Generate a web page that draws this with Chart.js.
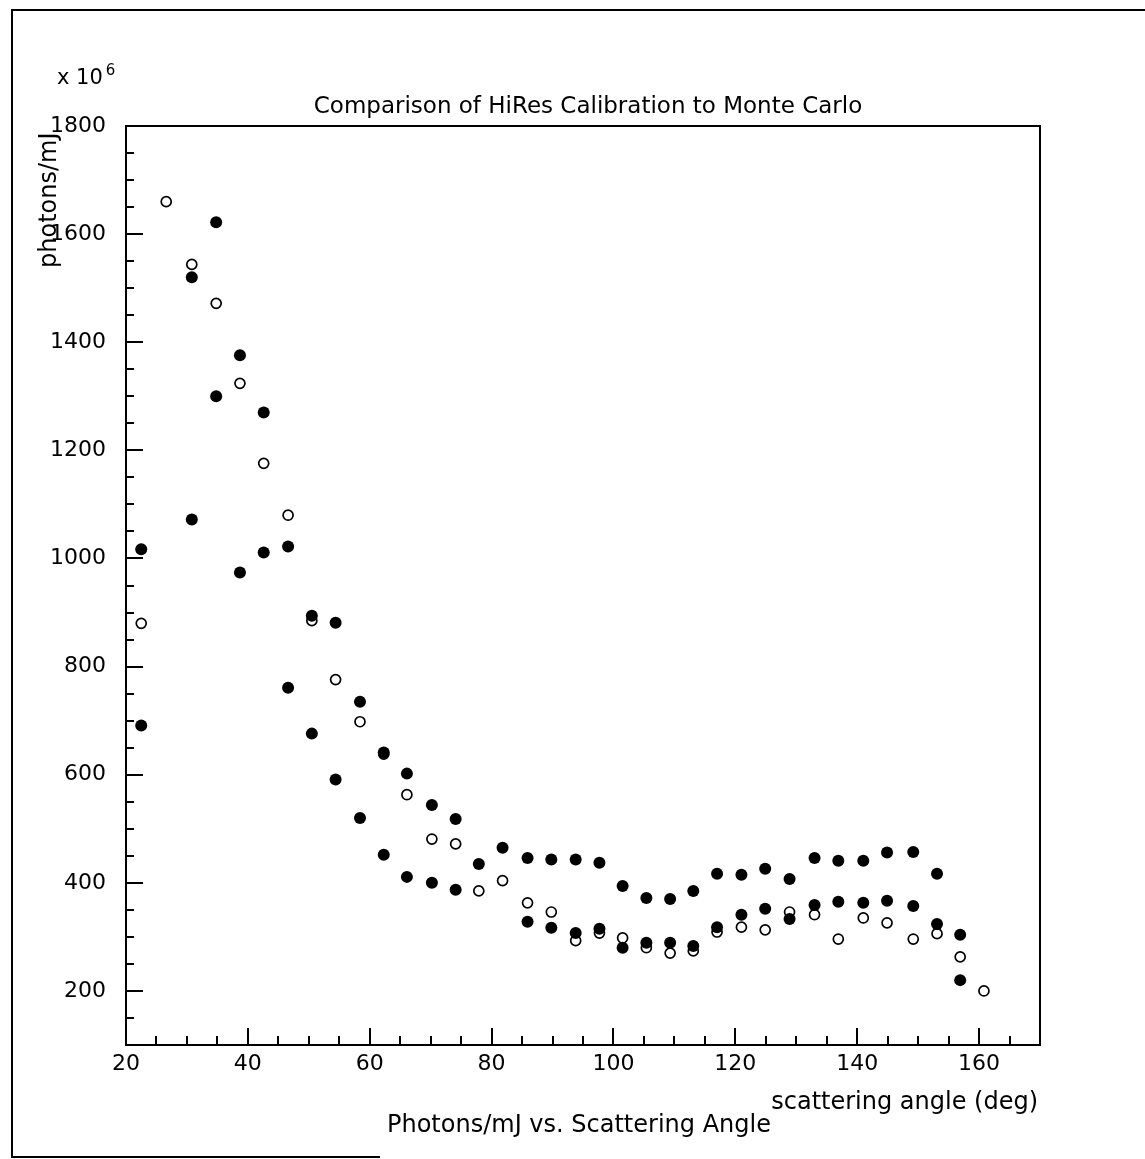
<!DOCTYPE html>
<html>
<head>
<meta charset="utf-8">
<script src="https://cdn.jsdelivr.net/npm/chart.js@4.4.1/dist/chart.umd.min.js"></script>
<style>
  body { margin: 0; background: #fff; }
  canvas { display: block; }
</style>
</head>
<body>
<canvas id="hires" width="1145" height="1159"></canvas>
<script>
// scattering angle of each bin (deg)
const angles = [22.5, 26.6, 30.8, 34.8, 38.7, 42.6, 46.6, 50.5, 54.4, 58.4,
  62.3, 66.1, 70.2, 74.1, 77.9, 81.8, 85.9, 89.8, 93.8, 97.7,
  101.5, 105.4, 109.3, 113.1, 117.0, 121.0, 124.9, 128.9, 133.0, 136.9,
  141.0, 144.9, 149.2, 153.1, 156.9, 160.8];

// photons/mJ (x 10^6) -- HiRes calibration, upper and lower sets
const calibHigh = [1017, null, 1520, 1622, 1376, 1270, 1022, 894, 881, 735,
  641, 602, 544, 518, 435, 465, 446, 443, 443, 437,
  394, 372, 370, 385, 417, 415, 426, 407, 446, 441,
  441, 456, 457, 417, 304, null];
const calibLow = [691, null, 1072, 1300, 974, 1011, 761, 676, 591, 520,
  452, 411, 400, 387, null, null, 328, 317, 307, 315,
  280, 289, 289, 283, 318, 341, 352, 333, 359, 365,
  363, 367, 357, 324, 220, null];
// Monte Carlo prediction
const monteCarlo = [880, 1660, 1544, 1472, 1324, 1176, 1080, 885, 776, 698,
  638, 563, 481, 472, 385, 404, 363, 346, 293, 307,
  298, 280, 270, 274, 309, 318, 313, 346, 341, 296,
  335, 326, 296, 306, 263, 200];

// labelled tick values
const xMajor = [20, 40, 60, 80, 100, 120, 140, 160];
const yMajor = [200, 400, 600, 800, 1000, 1200, 1400, 1600, 1800];

const FONT = '"DejaVu Sans", sans-serif';

function toPoints(vals) {
  return angles.map((a, i) => ({ x: a, y: vals[i] })).filter(p => p.y !== null);
}

// box, inward ticks and the text around the plot
const pawFrame = {
  id: 'pawFrame',
  afterDraw(chart) {
    const { ctx, chartArea: a, scales: { x, y } } = chart;
    ctx.save();
    ctx.strokeStyle = '#000';
    ctx.fillStyle = '#000';
    ctx.lineWidth = 2;
    ctx.strokeRect(a.left, a.top, a.right - a.left, a.bottom - a.top);

    ctx.beginPath();
    x.ticks.forEach(t => {
      const px = Math.round(x.getPixelForValue(t.value));
      const len = xMajor.includes(t.value) ? 17 : 9;
      ctx.moveTo(px, a.bottom);
      ctx.lineTo(px, a.bottom - len);
    });
    y.ticks.forEach(t => {
      const py = Math.round(y.getPixelForValue(t.value));
      const len = yMajor.includes(t.value) ? 17 : 8;
      ctx.moveTo(a.left, py);
      ctx.lineTo(a.left + len, py);
    });
    ctx.stroke();

    // outer page box
    ctx.beginPath();
    ctx.moveTo(1145, 10);
    ctx.lineTo(12, 10);
    ctx.lineTo(12, 1157);
    ctx.lineTo(380, 1157);
    ctx.stroke();

    ctx.textBaseline = 'alphabetic';
    ctx.font = '23px ' + FONT;
    ctx.textAlign = 'center';
    ctx.fillText('Comparison of HiRes Calibration to Monte Carlo', 588, 113);

    ctx.textAlign = 'left';
    ctx.font = '21px ' + FONT;
    ctx.fillText('x 10', 57, 84);
    const w = ctx.measureText('x 10').width;
    ctx.font = '15px ' + FONT;
    ctx.fillText('6', 57 + w + 3, 75);

    ctx.font = '24px ' + FONT;
    ctx.textAlign = 'right';
    ctx.fillText('scattering angle (deg)', 1038, 1109);
    ctx.textAlign = 'left';
    ctx.fillText('Photons/mJ vs. Scattering Angle', 387, 1132);

    ctx.save();
    ctx.translate(56, 268);
    ctx.rotate(-Math.PI / 2);
    ctx.font = '24px ' + FONT;
    ctx.textAlign = 'left';
    ctx.fillText('photons/mJ', 0, 0);
    ctx.restore();

    ctx.restore();
  }
};

new Chart(document.getElementById('hires'), {
  type: 'scatter',
  data: {
    datasets: [
      {
        label: 'calibration (high)',
        data: toPoints(calibHigh),
        pointRadius: 6,
        pointBackgroundColor: '#000',
        pointBorderColor: '#000',
        pointBorderWidth: 0,
        order: 1
      },
      {
        label: 'calibration (low)',
        data: toPoints(calibLow),
        pointRadius: 6,
        pointBackgroundColor: '#000',
        pointBorderColor: '#000',
        pointBorderWidth: 0,
        order: 1
      },
      {
        label: 'Monte Carlo',
        data: toPoints(monteCarlo),
        pointRadius: 5,
        pointBackgroundColor: '#fff',
        pointBorderColor: '#000',
        pointBorderWidth: 1.7,
        order: 2
      }
    ]
  },
  options: {
    responsive: false,
    animation: false,
    layout: { padding: { left: 0, top: 126, right: 105, bottom: 0 } },
    plugins: {
      legend: { display: false },
      title: { display: false },
      tooltip: { enabled: false }
    },
    scales: {
      x: {
        type: 'linear',
        min: 20,
        max: 170,
        afterFit(scale) { scale.height = 114; },
        grid: { display: false, drawTicks: false },
        border: { display: false },
        ticks: {
          stepSize: 5,
          autoSkip: false,
          maxRotation: 0,
          padding: 6,
          color: '#000',
          font: { family: FONT, size: 22 },
          callback: v => xMajor.includes(v) ? String(v) : ''
        }
      },
      y: {
        type: 'linear',
        min: 100,
        max: 1800,
        afterFit(scale) { scale.width = 126; },
        grid: { display: false, drawTicks: false },
        border: { display: false },
        ticks: {
          stepSize: 50,
          autoSkip: false,
          padding: 20,
          color: '#000',
          font: { family: FONT, size: 22 },
          callback: v => yMajor.includes(v) ? String(v) : ''
        }
      }
    }
  },
  plugins: [pawFrame]
});
</script>
</body>
</html>
